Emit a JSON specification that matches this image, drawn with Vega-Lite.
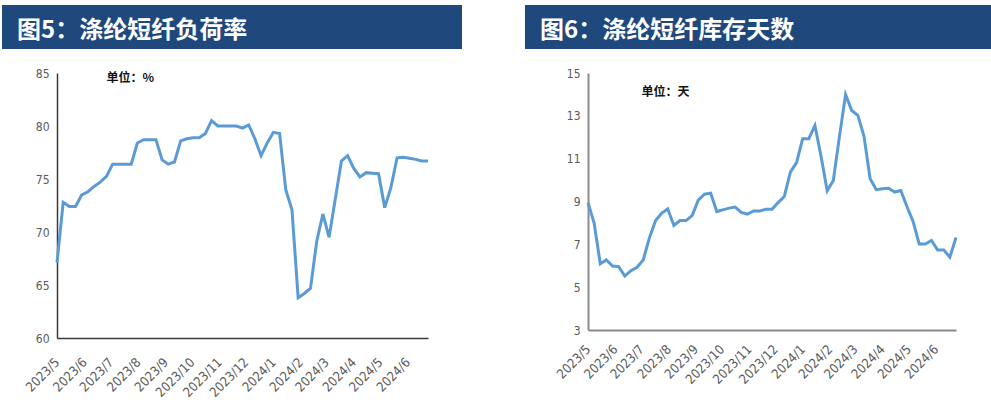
{
  "$schema": "https://vega.github.io/schema/vega-lite/v6.json",
  "padding": {"left": 2, "top": 5, "right": 0, "bottom": 0},
  "background": "white",
  "config": {"view": {"stroke": null}},
  "spacing": 63,
  "datasets": {
    "w": [
      {"date": "2023-05-01", "load": 67.1, "days": 8.95},
      {"date": "2023-05-08", "load": 72.8, "days": 7.99},
      {"date": "2023-05-15", "load": 72.4, "days": 6.09},
      {"date": "2023-05-22", "load": 72.4, "days": 6.27},
      {"date": "2023-05-29", "load": 73.5, "days": 5.99},
      {"date": "2023-06-05", "load": 73.8, "days": 5.96},
      {"date": "2023-06-12", "load": 74.3, "days": 5.52},
      {"date": "2023-06-19", "load": 74.7, "days": 5.77},
      {"date": "2023-06-26", "load": 75.25, "days": 5.93},
      {"date": "2023-07-03", "load": 76.4, "days": 6.27},
      {"date": "2023-07-10", "load": 76.4, "days": 7.29},
      {"date": "2023-07-17", "load": 76.4, "days": 8.1},
      {"date": "2023-07-24", "load": 76.4, "days": 8.45},
      {"date": "2023-07-31", "load": 78.4, "days": 8.66},
      {"date": "2023-08-07", "load": 78.7, "days": 7.88},
      {"date": "2023-08-14", "load": 78.7, "days": 8.11},
      {"date": "2023-08-21", "load": 78.7, "days": 8.11},
      {"date": "2023-08-28", "load": 76.8, "days": 8.35},
      {"date": "2023-09-04", "load": 76.4, "days": 9.08},
      {"date": "2023-09-11", "load": 76.6, "days": 9.34},
      {"date": "2023-09-18", "load": 78.6, "days": 9.39},
      {"date": "2023-09-25", "load": 78.8, "days": 8.53},
      {"date": "2023-10-02", "load": 78.9, "days": 8.61},
      {"date": "2023-10-09", "load": 78.9, "days": 8.69},
      {"date": "2023-10-16", "load": 79.3, "days": 8.74},
      {"date": "2023-10-23", "load": 80.5, "days": 8.49},
      {"date": "2023-10-30", "load": 80.0, "days": 8.41},
      {"date": "2023-11-06", "load": 80.0, "days": 8.56},
      {"date": "2023-11-13", "load": 80.0, "days": 8.56},
      {"date": "2023-11-20", "load": 80.0, "days": 8.64},
      {"date": "2023-11-27", "load": 79.8, "days": 8.64},
      {"date": "2023-12-04", "load": 80.1, "days": 8.95},
      {"date": "2023-12-11", "load": 78.8, "days": 9.23},
      {"date": "2023-12-18", "load": 77.2, "days": 10.37},
      {"date": "2023-12-25", "load": 78.4, "days": 10.82},
      {"date": "2024-01-01", "load": 79.4, "days": 11.93},
      {"date": "2024-01-08", "load": 79.3, "days": 11.93},
      {"date": "2024-01-15", "load": 74.0, "days": 12.55},
      {"date": "2024-01-22", "load": 72.1, "days": 11.1},
      {"date": "2024-01-29", "load": 63.8, "days": 9.5},
      {"date": "2024-02-05", "load": 64.2, "days": 9.98},
      {"date": "2024-02-12", "load": 64.7, "days": 12.04},
      {"date": "2024-02-19", "load": 69.1, "days": 13.99},
      {"date": "2024-02-26", "load": 71.7, "days": 13.25},
      {"date": "2024-03-04", "load": 69.5, "days": 13.02},
      {"date": "2024-03-11", "load": 73.1, "days": 12.04},
      {"date": "2024-03-18", "load": 76.7, "days": 10.06},
      {"date": "2024-03-25", "load": 77.2, "days": 9.55},
      {"date": "2024-04-01", "load": 76.0, "days": 9.59},
      {"date": "2024-04-08", "load": 75.2, "days": 9.62},
      {"date": "2024-04-15", "load": 75.6, "days": 9.44},
      {"date": "2024-04-22", "load": 75.55, "days": 9.51},
      {"date": "2024-04-29", "load": 75.5, "days": 8.77},
      {"date": "2024-05-06", "load": 72.3, "days": 8.07},
      {"date": "2024-05-13", "load": 74.2, "days": 7.01},
      {"date": "2024-05-20", "load": 77.0, "days": 7.01},
      {"date": "2024-05-27", "load": 77.05, "days": 7.18},
      {"date": "2024-06-03", "load": 76.95, "days": 6.74},
      {"date": "2024-06-10", "load": 76.85, "days": 6.74},
      {"date": "2024-06-17", "load": 76.7, "days": 6.4},
      {"date": "2024-06-24", "load": 76.7, "days": 7.32}
    ]
  },
  "hconcat": [
    {
      "spacing": 18,
      "vconcat": [
        {
          "width": 460,
          "height": 44,
          "view": {"fill": "#1F497D", "stroke": null},
          "data": {"values": [{"t": "图5：涤纶短纤负荷率"}]},
          "mark": {"type": "text", "align": "left", "baseline": "middle", "dx": -215, "dy": 4, "font": "Noto Sans CJK SC", "fontWeight": "bold", "fontSize": 24, "color": "white"},
          "encoding": {"text": {"field": "t"}}
        },
        {
          "width": 426,
          "height": 265,
          "layer": [
            {
              "data": {"name": "w"},
              "mark": {"type": "line", "color": "#5B9BD5", "strokeWidth": 3},
              "encoding": {
                "x": {
                  "field": "date", "type": "temporal",
                  "scale": {"type": "utc", "nice": false, "range": [55, 426]},
                  "axis": {"title": null, "labelExpr": "utcFormat(datum.value, '%Y/%-m')", "tickCount": {"interval": "month", "step": 1}, "labelAngle": -45, "labelAlign": "right", "labelBaseline": "middle", "labelPadding": 22, "ticks": false, "grid": false, "domainColor": "#3a3a3a", "domainWidth": 1.5, "labelColor": "#595959", "labelFont": "Liberation Sans Narrow, DejaVu Sans Condensed, Liberation Sans, sans-serif", "labelFontSize": 13, "labelOverlap": false, "labelFlush": false}
                },
                "y": {
                  "field": "load", "type": "quantitative",
                  "scale": {"domain": [60, 85], "nice": false, "zero": false},
                  "axis": {"title": null, "offset": -55, "values": [60, 65, 70, 75, 80, 85], "ticks": false, "grid": false, "domainColor": "#3a3a3a", "domainWidth": 1.5, "labelColor": "#595959", "labelFont": "Liberation Sans Narrow, DejaVu Sans Condensed, Liberation Sans, sans-serif", "labelFontSize": 12, "labelPadding": 8}
                }
              }
            },
            {
              "data": {"values": [{"date": "2023-06-26", "v": 84.5, "label": "单位：%"}]},
              "mark": {"type": "text", "align": "left", "baseline": "middle", "font": "Noto Sans CJK SC", "fontSize": 12, "fontWeight": "bold", "color": "#111111"},
              "encoding": {
                "x": {"field": "date", "type": "temporal"},
                "y": {"field": "v", "type": "quantitative"},
                "text": {"field": "label"}
              }
            }
          ]
        }
      ]
    },
    {
      "spacing": 18,
      "vconcat": [
        {
          "width": 466,
          "height": 44,
          "view": {"fill": "#1F497D", "stroke": null},
          "data": {"values": [{"t": "图6：涤纶短纤库存天数"}]},
          "mark": {"type": "text", "align": "left", "baseline": "middle", "dx": -218, "dy": 4, "font": "Noto Sans CJK SC", "fontWeight": "bold", "fontSize": 24, "color": "white"},
          "encoding": {"text": {"field": "t"}}
        },
        {
          "width": 431,
          "height": 257,
          "layer": [
            {
              "data": {"name": "w"},
              "mark": {"type": "line", "color": "#5B9BD5", "strokeWidth": 3},
              "encoding": {
                "x": {
                  "field": "date", "type": "temporal",
                  "scale": {"type": "utc", "nice": false, "range": [63, 431]},
                  "axis": {"title": null, "labelExpr": "utcFormat(datum.value, '%Y/%-m')", "tickCount": {"interval": "month", "step": 1}, "labelAngle": -45, "labelAlign": "right", "labelBaseline": "middle", "labelPadding": 17, "ticks": false, "grid": false, "domainColor": "#8c8c8c", "domainWidth": 2, "labelColor": "#595959", "labelFont": "Liberation Sans Narrow, DejaVu Sans Condensed, Liberation Sans, sans-serif", "labelFontSize": 13, "labelOverlap": false, "labelFlush": false}
                },
                "y": {
                  "field": "days", "type": "quantitative",
                  "scale": {"domain": [3, 15], "nice": false, "zero": false},
                  "axis": {"title": null, "offset": -63, "values": [3, 5, 7, 9, 11, 13, 15], "ticks": false, "grid": false, "domainColor": "#8c8c8c", "domainWidth": 2, "labelColor": "#595959", "labelFont": "Liberation Sans Narrow, DejaVu Sans Condensed, Liberation Sans, sans-serif", "labelFontSize": 12, "labelPadding": 8}
                }
              }
            },
            {
              "data": {"values": [{"date": "2023-07-01", "v": 14.1, "label": "单位：天"}]},
              "mark": {"type": "text", "align": "left", "baseline": "middle", "font": "Noto Sans CJK SC", "fontSize": 12, "fontWeight": "bold", "color": "#111111"},
              "encoding": {
                "x": {"field": "date", "type": "temporal"},
                "y": {"field": "v", "type": "quantitative"},
                "text": {"field": "label"}
              }
            }
          ]
        }
      ]
    }
  ]
}
